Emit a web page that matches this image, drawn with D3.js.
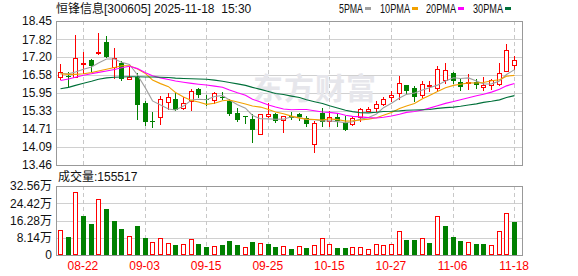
<!DOCTYPE html>
<html>
<head>
<meta charset="utf-8">
<script src="https://cdn.jsdelivr.net/npm/d3@7"></script>
<style>
  body { margin: 0; background: #fff; }
  svg { display: block; font-family: "Liberation Sans", Arial, "Noto Sans CJK SC", sans-serif; }
</style>
</head>
<body>
<svg id="chart"></svg>
<script>
  // daily data, 08-19 .. 11-18
  var dates = ["08-19","08-20","08-21","08-22","08-25","08-26","08-27","08-28","08-29",
    "09-01","09-02","09-03","09-04","09-05","09-08","09-09","09-10","09-11","09-12",
    "09-15","09-16","09-17","09-18","09-19","09-22","09-23","09-24","09-25","09-26",
    "09-29","09-30","10-09","10-10","10-13","10-14","10-15","10-16","10-17",
    "10-20","10-21","10-22","10-23","10-24","10-27","10-28","10-29","10-30","10-31",
    "11-03","11-04","11-05","11-06","11-07","11-10","11-11","11-12","11-13","11-14",
    "11-17","11-18"];
  var open = [16.52,16.55,16.52,16.98,17.09,17.33,17.72,16.87,17.01,16.45,16.52,15.61,14.99,15.11,
    15.65,15.73,15.44,15.69,16.08,15.74,15.71,15.82,15.69,15.26,15.15,15.05,14.53,15.17,15.21,
    15.03,15.16,15.23,15.09,14.18,15.26,14.97,15.12,14.91,14.88,15.12,15.32,15.43,15.58,15.81,
    15.94,16.22,16.14,15.87,16.22,16.14,16.39,16.64,16.35,16.29,16.33,16.16,16.24,16.25,16.72,16.93];
  var high = [16.95,16.69,17.96,17.39,17.12,18.05,17.94,17.53,17.07,16.89,16.66,15.67,15.29,15.84,
    15.94,15.94,15.82,16.08,16.14,15.90,15.98,15.98,15.75,15.44,15.15,15.23,15.24,15.61,15.26,
    15.16,15.29,15.26,15.15,14.97,15.44,15.32,15.21,15.15,15.11,15.44,15.47,15.67,15.82,16.04,
    16.54,16.22,16.19,16.37,16.37,16.89,16.98,16.68,16.43,16.60,16.45,16.52,16.43,17.01,17.65,17.22];
  var low = [16.43,16.19,16.50,16.66,16.72,17.32,17.20,16.46,16.39,16.44,15.07,14.86,14.76,14.89,
    15.41,15.36,15.40,15.36,15.82,15.55,15.61,15.73,15.18,14.97,14.91,14.25,14.52,15.14,14.94,
    14.62,15.05,15.03,14.82,13.90,14.82,14.80,14.80,14.66,14.86,14.97,15.32,15.32,15.55,15.67,
    15.73,15.94,15.67,15.82,16.02,16.02,16.31,16.31,16.05,16.08,16.14,16.05,16.08,16.23,16.71,16.78];
  var close = [16.69,16.53,17.18,17.00,16.88,17.39,17.21,17.18,16.43,16.52,15.55,14.94,14.97,15.73,
    15.82,15.38,15.61,16.02,15.87,15.72,15.94,15.80,15.24,15.03,15.14,14.68,15.23,15.21,14.97,
    15.15,15.09,15.11,14.88,14.91,14.94,15.11,14.97,14.68,15.09,15.40,15.40,15.58,15.76,15.87,
    16.31,16.02,15.82,16.28,16.24,16.78,16.74,16.37,16.17,16.33,16.24,16.22,16.40,16.66,17.45,17.09];
  var volume = [116000,86000,299000,183000,146000,266000,216000,160000,122000,92000,136000,80000,
    59000,78000,55000,47000,50000,74000,52000,38000,41000,47000,66000,47000,36000,61000,55000,
    52000,38000,41000,28000,41000,33000,47000,78000,50000,33000,33000,36000,36000,27000,50000,
    45000,50000,111000,70000,70000,78000,56000,182000,136000,85000,66000,59000,52000,52000,
    45000,111000,200000,155517];

  // moving averages before a full window exists
  var ma5Head = [16.62,16.62,16.68,16.78];
  var ma10Head = [16.62,16.60,16.60,16.62,16.66,16.72,16.78,16.84,16.90];
  var ma20Head = [16.39,16.44,16.50,16.57,16.62,16.67,16.72,16.77,16.83,16.88,16.80,16.66,16.55,
    16.48,16.42,16.37,16.33,16.29,16.26];
  var ma30Head = [16.10,16.15,16.22,16.29,16.36,16.43,16.48,16.50,16.51,16.52,16.52,16.51,16.51,
    16.50,16.49,16.47,16.46,16.45,16.44,16.43,16.40,16.36,16.32,16.27,16.22,16.15,16.08,16.01,15.94];

  var priceTicks = [13.46,14.09,14.71,15.33,15.95,16.58,17.20,17.82,18.45];
  var volTicks = [0,81400,162800,244200,325600];
  var volTickLabels = ["0","8.14万","16.28万","24.42万","32.56万"];
  var dateTicks = ["08-22","09-03","09-15","09-25","10-15","10-27","11-06","11-18"];
  var maNames = ["5PMA","10PMA","20PMA","30PMA"];
  var maPeriods = [5,10,20,30];
  var maColors = ["#a0a0a0","#f2a100","#ff00ff","#00703a"];

  var red = "#ff0000", green = "#008000";
  var svgWidth = 578, svgHeight = 276;
  var left = 56, right = 522;

  var svg = d3.select("#chart")
    .attr("width", svgWidth)
    .attr("height", svgHeight);

  var x = d3.scaleBand().domain(dates).range([56, 518]).paddingInner(0.35).paddingOuter(0.175);
  var y = d3.scaleLinear().domain([13.46, 18.45]).range([165, 21]);
  var yVol = d3.scaleLinear().domain([0, 325600]).range([255, 186]);

  function cx(i) { return Math.round(x(dates[i]) + x.bandwidth() / 2); }
  function py(v) { return Math.round(y(v)); }

  // grid
  var grid = svg.append("g").attr("shape-rendering", "crispEdges");
  grid.selectAll(".hp").data(priceTicks).enter().append("line")
    .attr("x1", left).attr("x2", right)
    .attr("y1", function(d) { return py(d) + 0.5; })
    .attr("y2", function(d) { return py(d) + 0.5; })
    .attr("stroke", "#d0d0d0");
  grid.selectAll(".hv").data(volTicks).enter().append("line")
    .attr("x1", left).attr("x2", right)
    .attr("y1", function(d) { return Math.round(yVol(d)) + 0.5; })
    .attr("y2", function(d) { return Math.round(yVol(d)) + 0.5; })
    .attr("stroke", "#d0d0d0");
  [[21, 165], [186, 255]].forEach(function(r) {
    grid.selectAll(null).data(dateTicks).enter().append("line")
      .attr("x1", function(d) { return cx(dates.indexOf(d)) + 0.5; })
      .attr("x2", function(d) { return cx(dates.indexOf(d)) + 0.5; })
      .attr("y1", r[0]).attr("y2", r[1])
      .attr("stroke", "#c8c8c8")
      .attr("stroke-dasharray", "4,3");
  });

  // watermark
  svg.append("text")
    .attr("x", 253).attr("y", 99)
    .attr("font-size", 30)
    .attr("font-family", "Noto Sans CJK SC")
    .attr("font-weight", "bold")
    .attr("letter-spacing", 1)
    .attr("fill", "#e6e6eb")
    .text("东方财富");

  // candles
  var candle = svg.append("g").attr("shape-rendering", "crispEdges")
    .selectAll("g").data(dates).enter().append("g");

  candle.append("line")
    .attr("x1", function(d, i) { return cx(i) + 0.5; })
    .attr("x2", function(d, i) { return cx(i) + 0.5; })
    .attr("y1", function(d, i) { return py(high[i]); })
    .attr("y2", function(d, i) { return py(low[i]) + 1; })
    .attr("stroke", function(d, i) { return close[i] >= open[i] ? red : green; });

  candle.append("rect")
    .attr("x", function(d, i) { return close[i] >= open[i] ? cx(i) - 1.5 : cx(i) - 2; })
    .attr("y", function(d, i) {
      var top = py(Math.max(open[i], close[i]));
      return close[i] >= open[i] ? top + 0.5 : top;
    })
    .attr("width", function(d, i) { return close[i] >= open[i] ? 4 : 5; })
    .attr("height", function(d, i) {
      return Math.max(py(Math.min(open[i], close[i])) - py(Math.max(open[i], close[i])), 1);
    })
    .attr("fill", function(d, i) { return close[i] >= open[i] ? "#fff" : green; })
    .attr("stroke", function(d, i) { return close[i] >= open[i] ? red : "none"; });

  // moving averages
  function movingAverage(n, head) {
    return close.map(function(c, i) {
      if (i < n - 1) return head[i];
      return d3.mean(close.slice(i - n + 1, i + 1));
    });
  }
  var heads = [ma5Head, ma10Head, ma20Head, ma30Head];
  var maLine = d3.line()
    .x(function(d, i) { return cx(i) + 0.5; })
    .y(function(d) { return y(d); });
  maPeriods.forEach(function(n, k) {
    svg.append("path")
      .datum(movingAverage(n, heads[k]))
      .attr("d", maLine)
      .attr("fill", "none")
      .attr("stroke", maColors[k])
      .attr("stroke-width", 1.1);
  });

  // volume bars, coloured by close against previous close
  function volUp(i) { return i === 0 ? close[i] >= open[i] : close[i] >= close[i - 1]; }
  svg.append("g").attr("shape-rendering", "crispEdges")
    .selectAll("rect").data(volume).enter().append("rect")
    .attr("x", function(d, i) { return volUp(i) ? cx(i) - 1.5 : cx(i) - 2; })
    .attr("y", function(d, i) {
      var top = Math.round(yVol(d));
      return volUp(i) ? top + 0.5 : top;
    })
    .attr("width", function(d, i) { return volUp(i) ? 4 : 5; })
    .attr("height", function(d, i) {
      var top = Math.round(yVol(d));
      return volUp(i) ? 254 - top : 255 - top;
    })
    .attr("fill", function(d, i) { return volUp(i) ? "#fff" : green; })
    .attr("stroke", function(d, i) { return volUp(i) ? red : "none"; });

  // frames
  svg.append("rect").attr("x", 56.5).attr("y", 21.5).attr("width", 466).attr("height", 144)
    .attr("fill", "none").attr("stroke", "#999");
  svg.append("rect").attr("x", 56.5).attr("y", 186.5).attr("width", 466).attr("height", 69)
    .attr("fill", "none").attr("stroke", "#999");

  // axes
  var yAxis = svg.append("g")
    .attr("transform", "translate(" + left + ",0)")
    .call(d3.axisLeft(y).tickValues(priceTicks).tickSize(0).tickPadding(4)
      .tickFormat(function(d) { return d.toFixed(2); }));
  var vAxis = svg.append("g")
    .attr("transform", "translate(" + left + ",0)")
    .call(d3.axisLeft(yVol).tickValues(volTicks).tickSize(0).tickPadding(4)
      .tickFormat(function(d, i) { return volTickLabels[i]; }));
  var xAxis = svg.append("g")
    .attr("transform", "translate(0,255)")
    .call(d3.axisBottom(x).tickValues(dateTicks).tickSize(0).tickPadding(6.5));
  [yAxis, vAxis, xAxis].forEach(function(g) {
    g.select(".domain").remove();
    g.attr("font-size", 12).attr("font-family", null);
  });
  yAxis.attr("color", "#111");
  vAxis.attr("color", "#111");
  xAxis.attr("color", red);

  // header texts
  svg.append("text")
    .attr("x", 56).attr("y", 13)
    .attr("font-size", 12)
    .attr("fill", "#111")
    .attr("xml:space", "preserve")
    .style("white-space", "pre")
    .text("恒锋信息[300605] 2025-11-18  15:30");

  svg.append("text")
    .attr("x", 58).attr("y", 181)
    .attr("font-size", 12)
    .attr("fill", "#111")
    .text("成交量:" + volume[volume.length - 1]);

  maNames.forEach(function(name, k) {
    var sx = Math.round(365 + k * 46.7);
    svg.append("text")
      .attr("x", sx - 2).attr("y", 12.7)
      .attr("text-anchor", "end")
      .attr("font-size", 12)
      .attr("fill", "#111")
      .attr("textLength", name.length * 6)
      .attr("lengthAdjust", "spacingAndGlyphs")
      .text(name);
    svg.append("rect")
      .attr("x", sx).attr("y", 7)
      .attr("width", 6).attr("height", 3)
      .attr("fill", maColors[k]);
  });
</script>
</body>
</html>
